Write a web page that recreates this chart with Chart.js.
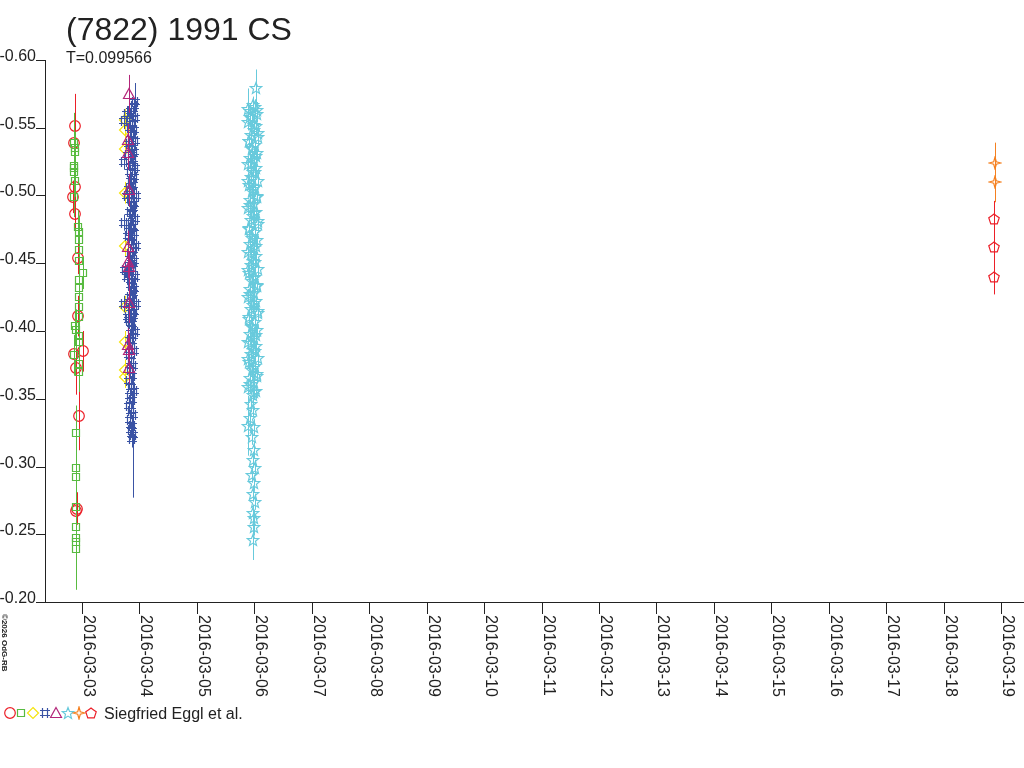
<!DOCTYPE html>
<html>
<head>
<meta charset="utf-8">
<title>(7822) 1991 CS</title>
<script src="https://cdn.jsdelivr.net/npm/chart.js@4.4.1/dist/chart.umd.min.js"></script>
<style>
  html, body { margin: 0; padding: 0; background: #fff; }
  canvas { display: block; }
</style>
</head>
<body>
<canvas id="lc" width="1024" height="768"></canvas>
<script>
const titleText = '(7822) 1991 CS';
const periodText = 'T=0.099566';
const creditText = 'Siegfried Eggl et al.';
const copyText = '\u00a92026 OdG-RB';

// x axis: day of March 2016, y axis: reduced magnitude (reversed)
const dayTicks = [3, 4, 5, 6, 7, 8, 9, 10, 11, 12, 13, 14, 15, 16, 17, 18, 19];
const magTicks = [-0.60, -0.55, -0.50, -0.45, -0.40, -0.35, -0.30, -0.25, -0.20];

// red circles
const redT = [2.878, 2.861, 2.878, 2.843, 2.878, 2.930, 2.930, 3.017, 2.861, 2.896, 2.948, 2.913, 2.896];
const redM = [-0.551, -0.539, -0.506, -0.499, -0.486, -0.454, -0.411, -0.385, -0.383, -0.373, -0.337, -0.269, -0.267];
const redE = [0.024, 0.015, 0.015, 0.012, 0.015, 0.012, 0.015, 0.015, 0.012, 0.02, 0.025, 0.012, 0.012];

// green squares
const greenT = [2.866, 2.878, 2.878, 2.861, 2.861, 2.861, 2.878, 2.861, 2.925, 2.948, 2.948, 2.948,
  2.948, 3.012, 2.948, 2.948, 2.948, 2.948, 2.948, 2.878, 2.896, 2.948, 2.948, 2.861, 2.948, 2.948,
  2.896, 2.890, 2.896, 2.896, 2.896, 2.890, 2.896, 2.890];
const greenM = [-0.539, -0.535, -0.532, -0.522, -0.520, -0.517, -0.511, -0.499, -0.477, -0.473, -0.467, -0.460,
  -0.452, -0.443, -0.438, -0.432, -0.425, -0.418, -0.410, -0.404, -0.401, -0.396, -0.392, -0.382, -0.376, -0.370,
  -0.325, -0.299, -0.292, -0.270, -0.255, -0.247, -0.244, -0.239];
const greenE = [0.022, 0.012, 0.012, 0.012, 0.012, 0.012, 0.012, 0.015, 0.012, 0.012, 0.012, 0.012,
  0.012, 0.012, 0.012, 0.012, 0.012, 0.012, 0.012, 0.015, 0.015, 0.015, 0.015, 0.015, 0.015, 0.015,
  0.02, 0.015, 0.015, 0.015, 0.015, 0.015, 0.015, 0.03];

// yellow diamonds
const yellowT = [3.757, 3.748, 3.748, 3.757, 3.757, 3.757, 3.748, 3.748, 3.757];
const yellowM = [-0.556, -0.548, -0.534, -0.502, -0.463, -0.418, -0.392, -0.371, -0.366];
const yellowE = [0.008, 0.008, 0.008, 0.008, 0.008, 0.008, 0.008, 0.008, 0.008];

// blue markers
const blueT = [3.923, 3.905, 3.853, 3.888, 3.923, 3.731, 3.870, 3.835, 3.905, 3.888, 3.853, 3.923,
  3.818, 3.870, 3.905, 3.853, 3.888, 3.731, 3.870, 3.923, 3.835, 3.905, 3.853, 3.888, 3.818, 3.870,
  3.940, 3.853, 3.905, 3.888, 3.835, 3.870, 3.923, 3.853, 3.888, 3.818, 3.905, 3.870, 3.853, 3.940,
  3.888, 3.835, 3.870, 3.905, 3.853, 3.888, 3.818, 3.923, 3.870, 3.853, 3.905, 3.888, 3.835, 3.870,
  3.940, 3.853, 3.905, 3.888, 3.818, 3.870, 3.853, 3.923, 3.888, 3.835, 3.870, 3.905, 3.818, 3.853,
  3.888, 3.835, 3.870, 3.818, 3.853, 3.905, 3.835, 3.870, 3.818, 3.853, 3.888, 3.835, 3.870, 3.853,
  3.870, 3.888, 3.731, 3.748, 3.731, 3.783, 3.800, 3.783, 3.800, 3.783, 3.800];
const blueM = [-0.569, -0.566, -0.562, -0.560, -0.557, -0.555, -0.553, -0.550, -0.548, -0.545, -0.542, -0.540,
  -0.538, -0.535, -0.532, -0.530, -0.527, -0.525, -0.522, -0.520, -0.517, -0.514, -0.511, -0.508, -0.505, -0.503,
  -0.500, -0.497, -0.494, -0.491, -0.488, -0.486, -0.483, -0.480, -0.477, -0.474, -0.472, -0.469, -0.466, -0.463,
  -0.460, -0.457, -0.454, -0.452, -0.449, -0.446, -0.443, -0.440, -0.437, -0.434, -0.431, -0.428, -0.425, -0.422,
  -0.420, -0.417, -0.414, -0.411, -0.408, -0.405, -0.402, -0.399, -0.396, -0.393, -0.389, -0.385, -0.382, -0.378,
  -0.374, -0.371, -0.367, -0.363, -0.359, -0.356, -0.352, -0.349, -0.345, -0.341, -0.338, -0.334, -0.330, -0.327,
  -0.320, -0.323, -0.480, -0.445, -0.420, -0.560, -0.530, -0.500, -0.470, -0.440, -0.410];
const blueErrTypical = 0.006;
const blueErrWide = { 0: 0.014, 83: 0.046 };

// magenta triangles
const magentaT = [3.812, 3.807, 3.807, 3.812, 3.807, 3.807, 3.812, 3.817, 3.800, 3.812, 3.812];
const magentaM = [-0.575, -0.541, -0.531, -0.504, -0.462, -0.451, -0.447, -0.421, -0.390, -0.386, -0.373];
const magentaE = [0.014, 0.012, 0.012, 0.012, 0.012, 0.012, 0.012, 0.015, 0.012, 0.012, 0.012];

// cyan stars
const cyanT = [5.977, 6.012, 5.925, 6.047, 5.960, 5.890, 6.029, 5.994, 5.942, 6.064, 5.907, 6.012,
  5.960, 6.047, 5.925, 5.994, 5.890, 6.029, 5.977, 5.942, 6.064, 5.907, 6.012, 5.960, 6.047, 5.925,
  5.994, 5.890, 6.029, 5.977, 5.942, 6.064, 5.907, 6.012, 5.960, 6.047, 5.925, 5.994, 5.890, 6.029,
  5.977, 5.942, 6.064, 5.907, 6.012, 5.960, 6.047, 5.925, 5.994, 5.890, 6.029, 5.977, 5.942, 6.064,
  5.907, 6.012, 5.960, 6.047, 5.925, 5.994, 5.890, 6.029, 5.977, 5.942, 6.064, 5.907, 6.012, 5.960,
  6.047, 5.925, 5.994, 5.890, 6.029, 5.977,
  5.942, 5.977, 5.925, 5.994, 5.960, 5.994, 5.977, 6.012, 5.960, 5.994, 5.977, 6.012, 5.977, 5.994,
  5.994, 5.977, 6.029, 5.890, 5.890,
  6.047, 5.925, 5.994, 6.064, 5.907, 5.960, 6.029, 5.942, 6.012, 5.890, 5.977, 6.047, 5.925, 5.994,
  6.064, 5.907, 5.960, 6.029, 5.942, 6.012, 5.890, 5.977, 6.047, 5.925, 5.994, 6.064, 5.907, 5.960,
  6.029, 5.942, 6.012, 5.890, 5.977, 6.047, 5.925, 5.994];
const cyanM = [-0.567, -0.565, -0.562, -0.560, -0.557, -0.554, -0.551, -0.548, -0.545, -0.543, -0.540, -0.537,
  -0.534, -0.531, -0.528, -0.526, -0.523, -0.520, -0.517, -0.514, -0.511, -0.508, -0.506, -0.503, -0.500, -0.497,
  -0.494, -0.491, -0.488, -0.485, -0.482, -0.479, -0.476, -0.473, -0.470, -0.467, -0.464, -0.461, -0.458, -0.455,
  -0.452, -0.449, -0.446, -0.443, -0.440, -0.437, -0.434, -0.431, -0.428, -0.425, -0.422, -0.419, -0.416, -0.413,
  -0.410, -0.407, -0.404, -0.401, -0.398, -0.395, -0.392, -0.389, -0.386, -0.383, -0.380, -0.377, -0.374, -0.371,
  -0.368, -0.365, -0.362, -0.359, -0.356, -0.353,
  -0.346, -0.342, -0.336, -0.329, -0.322, -0.312, -0.305, -0.299, -0.294, -0.288, -0.280, -0.274, -0.266, -0.262,
  -0.255, -0.246, -0.579, -0.564, -0.330,
  -0.563, -0.558, -0.552, -0.546, -0.540, -0.535, -0.529, -0.523, -0.517, -0.511, -0.505, -0.499, -0.493, -0.487,
  -0.481, -0.475, -0.469, -0.463, -0.457, -0.451, -0.445, -0.439, -0.433, -0.427, -0.421, -0.415, -0.409, -0.403,
  -0.397, -0.391, -0.385, -0.379, -0.373, -0.367, -0.361, -0.355];
const cyanErrTypical = 0.006;
const cyanErrWide = { 89: 0.015, 90: 0.014, 91: 0.015, 92: 0.022 };

// orange four-point stars and red pentagons (2016-03-19)
const orangeT = [18.895, 18.895];
const orangeM = [-0.524, -0.510];
const orangeE = [0.015, 0.015];
const pentaT = [18.877, 18.877, 18.877];
const pentaM = [-0.483, -0.462, -0.440];
const pentaE = [0.013, 0.012, 0.013];

const blueE = blueM.map((_, i) => blueErrWide[i] !== undefined ? blueErrWide[i] : blueErrTypical);
const cyanE = cyanM.map((_, i) => cyanErrWide[i] !== undefined ? cyanErrWide[i] : cyanErrTypical);

const FONT = '"Liberation Sans", Arial, Helvetica, sans-serif';
const INK = '#222';

// draw order: later entries end up on top
const seriesList = [
    { t: redT, m: redM, e: redE, color: '#ec1f28', shape: 'circle' },
    { t: greenT, m: greenM, e: greenE, color: '#58bb40', shape: 'square' },
    { t: yellowT, m: yellowM, e: yellowE, color: '#f5e40f', shape: 'diamond' },
    { t: blueT, m: blueM, e: blueE, color: '#3a53a4', shape: 'quad' },
    { t: magentaT, m: magentaM, e: magentaE, color: '#b32579', shape: 'triangle' },
    { t: cyanT, m: cyanM, e: cyanE, color: '#68cadc', shape: 'star5' },
    { t: orangeT, m: orangeM, e: orangeE, color: '#f58020', shape: 'star4' },
    { t: pentaT, m: pentaM, e: pentaE, color: '#ec1f28', shape: 'pentagon' }
];

function starPath(g, cx, cy, n, outer, inner) {
    for (let k = 0; k < 2 * n; k++) {
        const r = k % 2 ? inner : outer;
        const a = -Math.PI / 2 + k * Math.PI / n;
        const px = cx + r * Math.cos(a), py = cy + r * Math.sin(a);
        if (k === 0) g.moveTo(px, py); else g.lineTo(px, py);
    }
    g.closePath();
}

function makeMarker(shape, color) {
    const c = document.createElement('canvas');
    c.width = 14; c.height = 14;
    const g = c.getContext('2d');
    const cx = 7, cy = 7;
    g.strokeStyle = color;
    g.lineWidth = 1.2;
    g.beginPath();
    switch (shape) {
        case 'circle': g.arc(cx, cy, 5.3, 0, Math.PI * 2); break;
        case 'square': g.rect(3.5, 3.5, 7, 7); break;
        case 'diamond':
            g.moveTo(cx, 1.5); g.lineTo(12.5, cy); g.lineTo(cx, 12.5); g.lineTo(1.5, cy); g.closePath();
            break;
        case 'quad':
            g.moveTo(2, 4.5); g.lineTo(12, 4.5); g.moveTo(2, 9.5); g.lineTo(12, 9.5);
            g.moveTo(4.5, 2); g.lineTo(4.5, 12); g.moveTo(9.5, 2); g.lineTo(9.5, 12);
            break;
        case 'triangle':
            g.moveTo(cx, 1.5); g.lineTo(12.5, 11.5); g.lineTo(1.5, 11.5); g.closePath();
            break;
        case 'star5': starPath(g, cx, cy + 0.5, 5, 6, 2.6); break;
        case 'star4': starPath(g, cx, cy, 4, 6, 1.8); break;
        case 'pentagon': starPath(g, cx, cy + 0.5, 5, 5.5, 4.45); break;
    }
    g.stroke();
    return c;
}

seriesList.forEach(s => { s.marker = makeMarker(s.shape, s.color); });

const datasets = seriesList.map((s, i) => ({
    data: s.t.map((x, j) => ({ x: x, y: s.m[j] })),
    pointStyle: s.marker,
    pointRadius: 6,
    showLine: false,
    order: seriesList.length - i
}));

const decor = {
    id: 'decor',
    beforeDatasetsDraw(chart) {
        // keep the markers crisp like the original bitmap
        chart.ctx.imageSmoothingEnabled = false;
    },
    beforeDatasetDraw(chart, args) {
        const s = seriesList[args.index];
        const xs = chart.scales.x, ys = chart.scales.y, ctx = chart.ctx;
        ctx.save();
        ctx.strokeStyle = s.color;
        ctx.lineWidth = 1;
        ctx.beginPath();
        s.t.forEach((t, j) => {
            const px = Math.round(xs.getPixelForValue(t)) + 0.5;
            ctx.moveTo(px, ys.getPixelForValue(s.m[j] - s.e[j]));
            ctx.lineTo(px, ys.getPixelForValue(s.m[j] + s.e[j]));
        });
        ctx.stroke();
        ctx.restore();
    },
    afterDraw(chart) {
        const ctx = chart.ctx, xs = chart.scales.x, ys = chart.scales.y, area = chart.chartArea;
        ctx.save();
        ctx.strokeStyle = INK;
        ctx.fillStyle = INK;
        ctx.lineWidth = 1;

        // axes
        ctx.beginPath();
        ctx.moveTo(area.left + 0.5, area.top);
        ctx.lineTo(area.left + 0.5, area.bottom + 0.5);
        ctx.moveTo(area.left - 9, area.bottom + 0.5);
        ctx.lineTo(area.right, area.bottom + 0.5);
        ctx.stroke();

        // y ticks
        ctx.font = '16px ' + FONT;
        ctx.textAlign = 'right';
        ctx.textBaseline = 'alphabetic';
        magTicks.forEach(v => {
            const py = Math.round(ys.getPixelForValue(v)) + 0.5;
            ctx.beginPath();
            ctx.moveTo(area.left - 9, py);
            ctx.lineTo(area.left, py);
            ctx.stroke();
            ctx.fillText(v.toFixed(2), area.left - 9, py);
        });

        // x ticks, labels read top to bottom
        ctx.textAlign = 'left';
        dayTicks.forEach(d => {
            const px = Math.round(xs.getPixelForValue(d)) + 0.5;
            ctx.beginPath();
            ctx.moveTo(px, area.bottom);
            ctx.lineTo(px, area.bottom + 12);
            ctx.stroke();
            ctx.save();
            ctx.translate(px + 1.5, area.bottom + 13);
            ctx.rotate(Math.PI / 2);
            ctx.fillText('2016-03-' + String(d).padStart(2, '0'), 0, 0);
            ctx.restore();
        });

        // title and period
        ctx.font = '32px ' + FONT;
        ctx.fillText(titleText, 66, 40);
        ctx.font = '16px ' + FONT;
        ctx.fillText(periodText, 66, 63);

        // copyright, small and rotated
        ctx.save();
        ctx.font = 'bold 8px ' + FONT;
        ctx.translate(2, 614);
        ctx.rotate(Math.PI / 2);
        ctx.fillText(copyText, 0, 0);
        ctx.restore();

        // legend row
        seriesList.forEach((s, i) => {
            const cx = [10, 21, 33, 45, 56, 68, 79, 91][i];
            ctx.drawImage(s.marker, cx - 7, 713 - 7);
        });
        ctx.font = '16px ' + FONT;
        ctx.fillText(creditText, 104, 719);
        ctx.restore();
    }
};

new Chart(document.getElementById('lc'), {
    type: 'scatter',
    data: { datasets: datasets },
    options: {
        responsive: false,
        animation: false,
        devicePixelRatio: 1,
        events: [],
        layout: { autoPadding: false, padding: { left: 45, top: 60, right: 0, bottom: 166 } },
        scales: {
            x: { type: 'linear', display: false, min: 2.356, max: 19.40 },
            y: { type: 'linear', display: false, reverse: true, min: -0.60, max: -0.20 }
        },
        plugins: {
            legend: { display: false },
            tooltip: { enabled: false }
        }
    },
    plugins: [decor]
});
</script>
</body>
</html>
